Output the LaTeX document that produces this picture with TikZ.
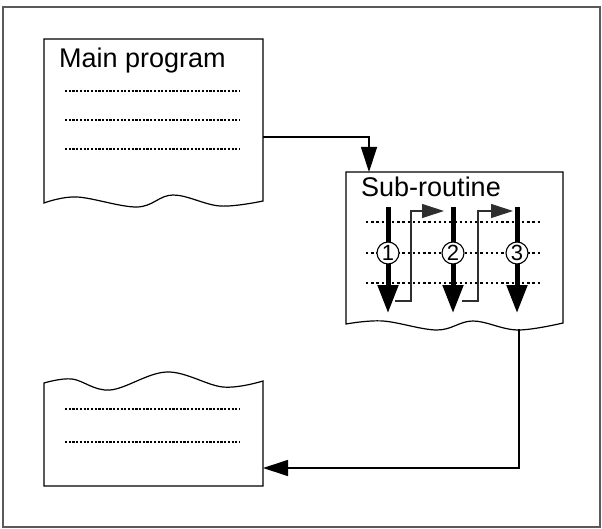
\documentclass[tikz,border=0pt]{standalone}
\usepackage{fontspec}
\setmainfont{Liberation Sans}
\usetikzlibrary{positioning,arrows.meta,calc}
\definecolor{framegrey}{HTML}{5A5A5A}
\definecolor{hopgrey}{HTML}{2E2E2E}
\tikzset{
  sheet/.style={draw=black,line width=1.2pt,line join=miter},
  dotrow/.style={line width=2.4pt,dash pattern=on 2.2pt off 1.5pt},
  flow/.style={line width=1.2pt,-{Triangle[length=25pt,width=16pt]}},
  pass/.style={line width=5pt,-{Triangle[length=28pt,width=20pt]}},
  hop/.style={draw=hopgrey,line width=1.1pt,-{Triangle[length=22pt,width=14pt]}},
  numcirc/.style={circle,draw,line width=1.1pt,fill=white,inner sep=0pt,
    minimum size=22pt,font=\fontsize{22}{22}\selectfont},
  headtext/.style={anchor=base west,inner sep=0pt,font=\fontsize{27}{31}\selectfont}
}
\begin{document}
\begin{tikzpicture}[x=1pt,y=-1pt]
  \useasboundingbox (0,0) rectangle (602,529);
  \draw[framegrey,line width=1.3pt] (3,7) rectangle (600,527);

  % main program sheet
  \draw[sheet] plot[smooth,tension=0.6] coordinates
    {(263,201) (220,206) (173,195) (137,207) (77,197) (44,203)}
    -- (44,39) -- (263,39) -- cycle;
  \node[headtext] (maintitle) at (59,68) {Main program};
  \foreach \y in {91,120,149}
    \draw[dotrow] (65,\y) -- (240,\y);

  % sub-routine sheet
  \draw[sheet] plot[smooth,tension=0.6] coordinates
    {(563,323) (517,330) (473,321) (437,330) (383,321) (346,324)}
    -- (346,172) -- (563,172) -- cycle;
  \node[headtext] (subtitle) at (361,197) {Sub-routine};
  \foreach \y in {222,253,283}
    \draw[dotrow,dash pattern=on 2.4pt off 2.8pt] (366,\y) -- (541,\y);
  \foreach \x [count=\i] in {388,453,517} {
    \draw[pass] (\x,207) -- (\x,313);
    \node[numcirc] (n\i) at (\x,253) {\i};
  }
  \coordinate (j1) at (395,301);
  \coordinate (k1) at (444,211);
  \coordinate (j2) at (462,301);
  \coordinate (k2) at (513,211);
  \draw[hop] (j1) -- ++(16,0) |- (k1);
  \draw[hop] (j2) -- ++(16,0) |- (k2);

  % return sheet
  \draw[sheet] plot[smooth,tension=0.6] coordinates
    {(44,383) (72,379) (110,390) (167,372) (223,387) (263,381)}
    -- (263,486) -- (44,486) -- cycle;
  \foreach \y in {409,442}
    \draw[dotrow] (65,\y) -- (240,\y);

  % calls
  \coordinate (mainout) at (263,137);
  \coordinate (subin) at (369,172);
  \coordinate (subout) at (519,329);
  \coordinate (lowin) at (263,468);
  \draw[flow] (mainout) -| (subin);
  \draw[flow] (subout) |- (lowin);
\end{tikzpicture}
\end{document}
